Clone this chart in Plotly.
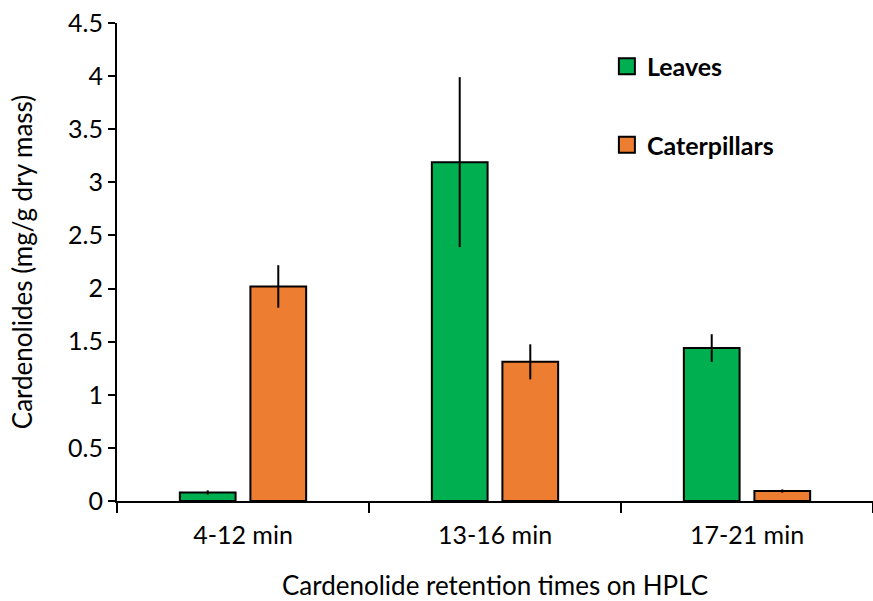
import plotly.graph_objects as go

categories = ["4-12 min", "13-16 min", "17-21 min"]
leaves = [0.08, 3.19, 1.44]
leaves_err = [0.02, 0.80, 0.13]
caterpillars = [2.02, 1.31, 0.094]
caterpillars_err = [0.20, 0.165, 0.015]

green = "#00B050"
orange = "#ED7D31"
font_family = "Lato, Carlito, Calibri, sans-serif"

fig = go.Figure()
fig.add_trace(go.Bar(
    name="Leaves", x=categories, y=leaves,
    marker=dict(color=green, line=dict(color="black", width=2)),
    error_y=dict(type="data", array=leaves_err, visible=True, color="black", thickness=2, width=0),
    showlegend=False,
))
fig.add_trace(go.Bar(
    name="Caterpillars", x=categories, y=caterpillars,
    marker=dict(color=orange, line=dict(color="black", width=2)),
    error_y=dict(type="data", array=caterpillars_err, visible=True, color="black", thickness=2, width=0),
    showlegend=False,
))
# legend entries with larger square swatches
for name, col, grp in [("Leaves", green, "a"), ("Caterpillars", orange, "b")]:
    fig.add_trace(go.Scatter(
        name=name, x=[None], y=[None], mode="markers",
        marker=dict(symbol="square", size=16, color=col, line=dict(color="black", width=2)),
        legendgroup=grp, showlegend=True,
    ))

fig.update_layout(
    width=873, height=601,
    margin=dict(l=117, r=0, t=23, b=100),
    paper_bgcolor="white", plot_bgcolor="white",
    barmode="group", bargap=0.44, bargroupgap=0.21,
    font=dict(family=font_family, size=25, color="black"),
    legend=dict(
        x=0.648, y=0.957, xanchor="left", yanchor="top",
        font=dict(size=25, family=font_family, weight="bold"),
        tracegroupgap=43, bgcolor="rgba(0,0,0,0)", itemsizing="trace",
        itemwidth=30,
    ),
    xaxis=dict(
        automargin=False,
        showline=True, linecolor="black", linewidth=2,
        ticks="outside", tickson="boundaries", ticklen=10, tickwidth=2, tickcolor="black",
        ticklabelstandoff=11,
        title=dict(text="Cardenolide retention times on HPLC", font=dict(size=26), standoff=30),
        tickfont=dict(size=25),
    ),
    yaxis=dict(
        automargin=False,
        range=[0, 4.5], dtick=0.5,
        showline=True, linecolor="black", linewidth=2,
        ticks="outside", ticklen=7, tickwidth=2, tickcolor="black",
        showgrid=False, zeroline=False,
        title=dict(text="Cardenolides (mg/g dry mass)", font=dict(size=26), standoff=28),
        tickfont=dict(size=25),
    ),
)

post = (
    "document.documentElement.style.margin='0';"
    "document.body.style.margin='0';"
    "document.body.style.padding='0';"
    "document.body.style.overflow='hidden';"
)

fig.write_html("out.html", config={"responsive": False, "displayModeBar": False}, post_script=post)
